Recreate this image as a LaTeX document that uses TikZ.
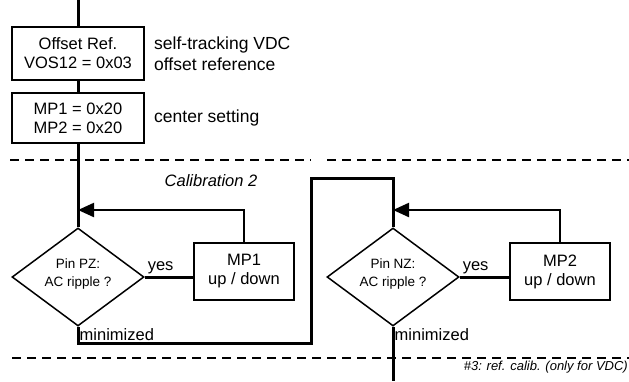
\documentclass[tikz,border=0pt]{standalone}
\usepackage{fontspec}
\setmainfont{Liberation Sans}
\usepackage{tikz}
\usetikzlibrary{positioning,arrows.meta,shapes.geometric}

\begin{document}
\begin{tikzpicture}[
  x=1pt, y=-1pt,
  node distance=6pt and 6pt,
  font=\fontsize{16.5}{19}\selectfont,
  setbox/.style={
    rectangle, draw=black, line width=2pt,
    minimum width=132pt, inner sep=0pt, align=center
  },
  adjbox/.style={
    rectangle, draw=black, line width=2pt,
    minimum width=100pt, minimum height=57pt, inner sep=0pt, align=center
  },
  test/.style={
    diamond, draw=black, line width=1.5pt, aspect=1.35,
    minimum width=132pt, minimum height=98pt, inner sep=0pt, align=center,
    text depth=9pt, font=\fontsize{13.5}{18}\selectfont
  },
  note/.style={align=left, font=\fontsize{17.5}{21}\selectfont, inner sep=0pt},
  lbl/.style={inner sep=1.5pt},
  flow/.style={line width=3pt},
  back/.style={line width=2.2pt, -{Triangle[length=16pt, width=14pt]}},
  sep/.style={line width=2pt, dash pattern=on 9pt off 6pt}
]
\useasboundingbox (0,0) rectangle (629,381);

% --- initial settings ---
\coordinate (top) at (78,0);
\node[setbox, minimum height=53pt] (offset) at (78,53.5) {Offset Ref.\\VOS12 = 0x03};
\node[setbox, minimum height=50pt] (center) at (78,118) {MP1 = 0x20\\MP2 = 0x20};
\node[note, right=9pt of offset] (offnote) {self-tracking VDC\\offset reference};
\node[note, right=9pt of center] (cennote) {center setting};

% --- section separators ---
\draw[sep] (10,160) -- (311,160);
\draw[sep] (327,160) -- (629,160);
\draw[sep] (12,358) -- (629,358);
\node[font=\fontsize{16.5}{19}\selectfont\itshape] (calib) at (211,181) {Calibration 2};
\node[font=\fontsize{13}{16}\selectfont\itshape, anchor=east, inner sep=0pt] (refnote) at (628,367)
  {\#3: ref. calib. (only for VDC)};

% --- two adjustment loops ---
\node[test] (pz) at (78,277) {Pin PZ:\\AC ripple ?};
\node[adjbox] (mp1) at (244,271.5) {MP1\\up / down};
\node[test] (nz) at (393,277) {Pin NZ:\\AC ripple ?};
\node[adjbox] (mp2) at (560,271.5) {MP2\\up / down};

\coordinate (j1) at (78,210);
\coordinate (j2) at (393,210);
\coordinate (lowturn) at (311,343);
\coordinate (highturn) at (311,178);
\coordinate (bottom) at (393,381);

% --- connections ---
\draw[flow] (top) -- (offset);
\draw[flow] (offset) -- (center);
\draw[flow] (center) -- (pz);
\draw[flow] (pz.east) -- (pz.east -| mp1.west) node[lbl, pos=0, anchor=south west] {yes};
\draw[back] (mp1.north) |- (j1);
\draw[flow] (pz.south) |- (lowturn) -- (highturn) -| (nz.north);
\node[lbl, anchor=north west] at (pz.south) {minimized};
\draw[flow] (nz.east) -- (nz.east -| mp2.west) node[lbl, pos=0, anchor=south west] {yes};
\draw[back] (mp2.north) |- (j2);
\draw[flow] (nz.south) -- (bottom);
\node[lbl, anchor=north west] at (nz.south) {minimized};

\end{tikzpicture}
\end{document}
